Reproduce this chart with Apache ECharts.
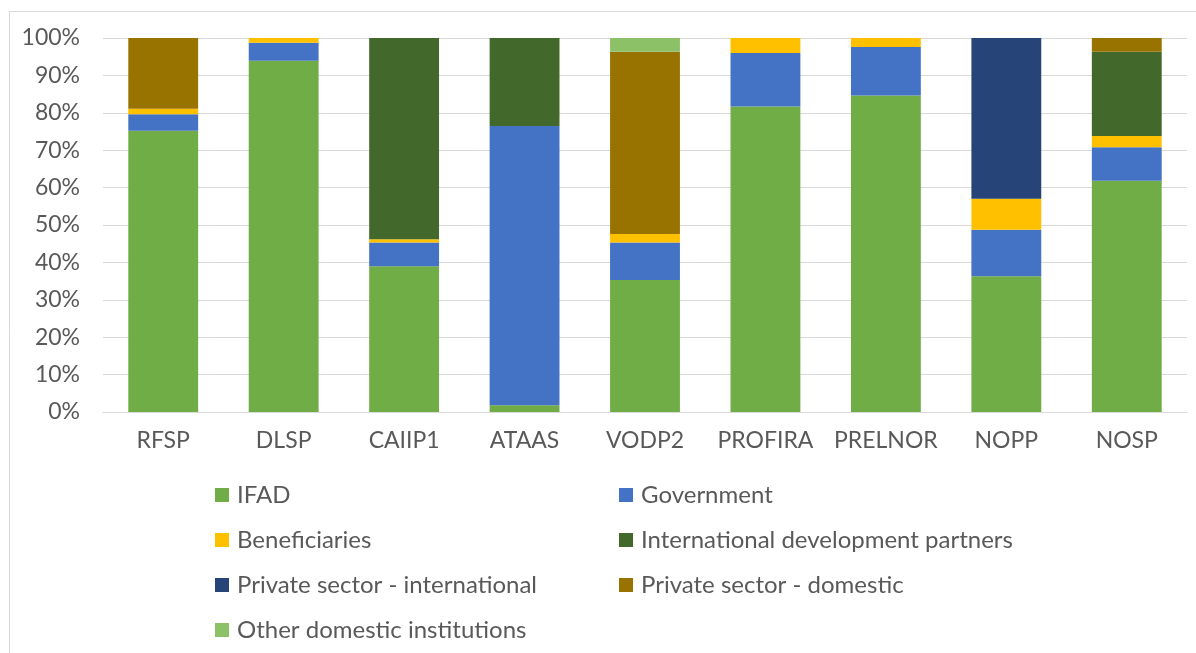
<!DOCTYPE html>
<html>
<head>
<meta charset="utf-8">
<script src="https://cdn.jsdelivr.net/npm/echarts@6/dist/echarts.min.js"></script>
<style>
html,body{margin:0;padding:0;background:#fff;}
#chart{width:1196px;height:653px;}
</style>
</head>
<body>
<div id="chart"></div>
<script>
const categories = ['RFSP','DLSP','CAIIP1','ATAAS','VODP2','PROFIRA','PRELNOR','NOPP','NOSP'];
const ifad        = [75.2, 93.9, 39.0, 1.8, 35.3, 81.7, 84.6, 36.3, 61.8];
const government  = [4.4, 4.8, 6.3, 74.7, 10.0, 14.3, 13.0, 12.4, 9.0];
const beneficiaries = [1.5, 1.3, 0.9, 0, 2.3, 4.0, 2.4, 8.3, 3.0];
const intlPartners = [0, 0, 53.8, 23.5, 0, 0, 0, 0, 22.5];
const privateIntl = [0, 0, 0, 0, 0, 0, 0, 43.0, 0];
const privateDomestic = [18.9, 0, 0, 0, 48.7, 0, 0, 0, 3.7];
const otherDomestic = [0, 0, 0, 0, 3.7, 0, 0, 0, 0];
const yTicks = [0,10,20,30,40,50,60,70,80,90,100];

const seriesDefs = [
  ['IFAD', ifad, '#70AD47'],
  ['Government', government, '#4472C4'],
  ['Beneficiaries', beneficiaries, '#FFC000'],
  ['International development partners', intlPartners, '#43682B'],
  ['Private sector - international', privateIntl, '#264478'],
  ['Private sector - domestic', privateDomestic, '#997300'],
  ['Other domestic institutions', otherDomestic, '#8CC168']
];

const FONT = 'Lato';
const chart = echarts.init(document.getElementById('chart'), null, {renderer:'canvas'});
const legendText = {fontFamily: FONT, fontSize: 24, color: '#595959', lineHeight: 24, padding: [0,0,0,3]};
chart.setOption({
  animation: false,
  backgroundColor: '#fff',
  graphic: [{
    type: 'rect', shape: {x: 9.5, y: 11.5, width: 1200, height: 700},
    style: {fill: 'none', stroke: '#d9d9d9', lineWidth: 1}, silent: true, z: -10
  }],
  grid: {left: 103, right: 9, top: 38, bottom: 241},
  legend: [{
    orient: 'vertical', left: 215, top: 483, padding: 0, itemWidth: 14, itemHeight: 14, itemGap: 21,
    icon: 'rect', textStyle: legendText,
    data: ['IFAD','Beneficiaries','Private sector - international','Other domestic institutions']
  },{
    orient: 'vertical', left: 619, top: 483, padding: 0, itemWidth: 14, itemHeight: 14, itemGap: 21,
    icon: 'rect', textStyle: legendText,
    data: ['Government','International development partners','Private sector - domestic']
  }],
  xAxis: {
    type: 'category', data: categories,
    axisLine: {lineStyle: {color: '#d9d9d9'}},
    axisTick: {show: false},
    axisLabel: {fontFamily: FONT, fontSize: 23, color: '#595959', margin: 17, interval: 0}
  },
  yAxis: {
    type: 'value', min: 0, max: 100, interval: 10,
    axisLine: {show: false}, axisTick: {show: false},
    splitLine: {lineStyle: {color: '#d9d9d9'}},
    axisLabel: {fontFamily: FONT, fontSize: 23, color: '#595959', margin: 23,
      formatter: v => yTicks.includes(v) ? v + '%' : ''}
  },
  series: seriesDefs.map(([name, data, color]) => ({
    name, type: 'bar', stack: 'total', data, barCategoryGap: '42%',
    itemStyle: {color}, emphasis: {disabled: true}
  }))
});
</script>
</body>
</html>
